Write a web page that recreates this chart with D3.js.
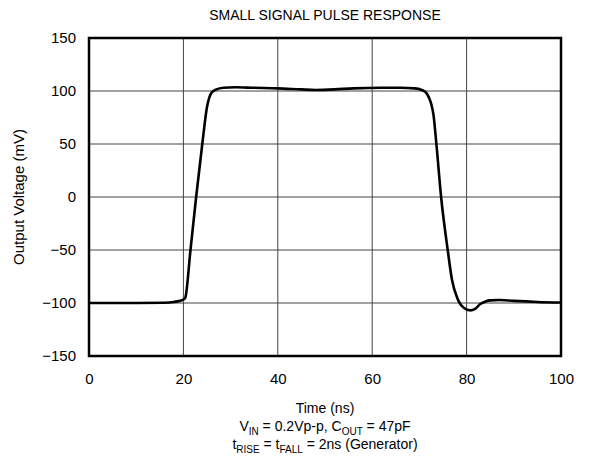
<!DOCTYPE html>
<html>
<head>
<meta charset="utf-8">
<script src="https://cdn.jsdelivr.net/npm/d3@7"></script>
<style>
  body { margin: 0; background: #fff; }
  text { font-family: "Liberation Sans", Arial, sans-serif; fill: #000; }
</style>
</head>
<body>
<svg id="chart" width="590" height="472"></svg>
<script>
// time (ns) and output voltage (mV)
var timeNs = [0, 10, 16, 18, 19.3, 20.1, 20.4, 21.5, 22.7, 24, 25, 25.5, 26, 27, 28.5, 31, 35, 40, 45, 48, 52, 56, 62, 66, 69, 70.5, 71.5, 72, 72.5, 73, 73.6, 74.6, 76, 76.9, 78, 79.4, 80.8, 81.8, 82.9, 84, 85, 87, 90, 95, 100]
var outMv = [-100, -100, -99.8, -99, -97.8, -96.5, -95, -50, 0, 50, 85, 94, 98.5, 101.5, 103, 103.5, 103, 102.5, 101.5, 101, 101.5, 102.5, 103, 103, 102.5, 101, 98, 94, 88, 77, 50, 0, -50, -78, -95, -104.5, -107, -105.5, -101, -98.5, -97.5, -97.2, -98, -99, -99.5]
var xTicks = [0, 20, 40, 60, 80, 100]
var yTicks = [-150, -100, -50, 0, 50, 100, 150]

var m = {left: 89, right: 29, top: 38, bottom: 116}
var W = 590, H = 472
var iw = W - m.left - m.right
var ih = H - m.top - m.bottom

var svg = d3.select('#chart')
var g = svg.append('g').attr('transform', `translate(${m.left},${m.top})`)

var x = d3.scaleLinear().domain([0, 100]).range([0, iw])
var y = d3.scaleLinear().domain([-150, 150]).range([ih, 0])

// grid
g.append('g').selectAll('line').data(xTicks.slice(1, -1)).join('line')
    .attr('x1', d => x(d)).attr('x2', d => x(d))
    .attr('y1', 0).attr('y2', ih)
    .attr('stroke', '#444').attr('stroke-width', 1)
g.append('g').selectAll('line').data(yTicks.slice(1, -1)).join('line')
    .attr('x1', 0).attr('x2', iw)
    .attr('y1', d => y(d)).attr('y2', d => y(d))
    .attr('stroke', '#444').attr('stroke-width', 1)

// axes (labels only, frame drawn separately)
var xAxis = g.append('g').attr('transform', `translate(0,${ih})`)
    .call(d3.axisBottom(x).tickValues(xTicks).tickSize(0).tickPadding(17))
var yAxis = g.append('g')
    .call(d3.axisLeft(y).tickValues(yTicks).tickSize(0).tickPadding(13)
      .tickFormat(d => d < 0 ? '\u2212' + Math.abs(d) : d))
;[xAxis, yAxis].forEach(a => {
  a.select('.domain').remove()
  a.selectAll('text').style('font-size', '15px').style('font-family', '"Liberation Sans", Arial, sans-serif')
})

// trace
var line = d3.line()
    .x((d, i) => x(timeNs[i]))
    .y(d => y(d))
    .curve(d3.curveMonotoneX)
g.append('path').datum(outMv)
    .attr('d', line)
    .attr('fill', 'none')
    .attr('stroke', '#000')
    .attr('stroke-width', 2.6)
    .attr('stroke-linejoin', 'round')

// frame
g.append('rect').attr('width', iw).attr('height', ih)
    .attr('fill', 'none').attr('stroke', '#000').attr('stroke-width', 2.5)

// titles
svg.append('text').attr('x', m.left + iw / 2).attr('y', 20)
    .attr('text-anchor', 'middle').style('font-size', '14px')
    .text('SMALL SIGNAL PULSE RESPONSE')

svg.append('text')
    .attr('transform', `translate(24,${m.top + ih / 2}) rotate(-90)`)
    .attr('text-anchor', 'middle').style('font-size', '15px')
    .text('Output Voltage (mV)')

svg.append('text').attr('x', m.left + iw / 2).attr('y', 413)
    .attr('text-anchor', 'middle').style('font-size', '14px')
    .text('Time (ns)')

function subLine (yy, parts) {
  var t = svg.append('text').attr('x', m.left + iw / 2).attr('y', yy)
      .attr('text-anchor', 'middle').style('font-size', '14px')
  parts.forEach(p => {
    var s = t.append('tspan').text(p[0])
    if (p[1]) s.attr('dy', 4).style('font-size', '10px')
    else if (p[2]) s.attr('dy', -4)
  })
}
subLine(431, [['V'], ['IN', 1], [' = 0.2Vp-p, C', 0, 1], ['OUT', 1], [' = 47pF', 0, 1]])
subLine(449, [['t'], ['RISE', 1], [' = t', 0, 1], ['FALL', 1], [' = 2ns (Generator)', 0, 1]])
</script>
</body>
</html>
